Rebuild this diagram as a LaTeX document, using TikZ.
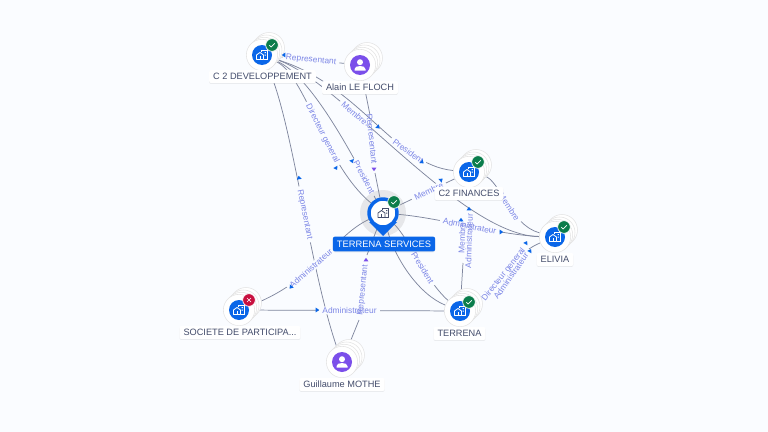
\documentclass[tikz,border=0pt]{standalone}
\usepackage{fontspec}
\setmainfont{Liberation Sans}
\usetikzlibrary{backgrounds, shadows, shapes.geometric}
\definecolor{pagebg}{HTML}{FAFCFF}
\definecolor{inkname}{HTML}{434C6B}
\definecolor{inkrole}{HTML}{7C86E6}
\definecolor{linkgray}{HTML}{7F869E}
\definecolor{mainblue}{HTML}{0A66E8}
\definecolor{mainviolet}{HTML}{7B4FEA}
\definecolor{okgreen}{HTML}{0B7D4B}
\definecolor{kored}{HTML}{C8103F}
\tikzset{
  link/.style={linkgray,line width=.55pt},
  role/.style={text=inkrole,font=\fontsize{6.3}{7}\selectfont,fill=pagebg,inner sep=.6pt,inner xsep=2.5pt,sloped},
  roleo/.style={text=inkrole,font=\fontsize{6.3}{7}\selectfont,inner sep=0pt},
  tipb/.style={isosceles triangle,isosceles triangle apex angle=70,fill=mainblue,inner sep=0pt,minimum size=2.6pt},
  tipv/.style={tipb,fill=mainviolet},
  nametag/.style={text=inkname,fill=white,rounded corners=1.5pt,inner sep=0pt,inner xsep=3pt,
    font=\fontsize{6.9}{8}\selectfont,text height=5pt,text depth=.4pt,minimum height=9.8pt,
    drop shadow={opacity=.14,shadow xshift=0pt,shadow yshift=-.7pt}},
  back/.style={fill=white,draw=black!11,line width=.4pt},
  holder/.style={circle,fill=white,draw=black!11,line width=.4pt,inner sep=0pt,minimum size=23.5pt},
  disc/.style={circle,inner sep=0pt,minimum size=15pt},
  badge/.style={circle,draw=white,line width=.5pt,inner sep=0pt,minimum size=9.5pt},
  bldg/.pic={
    \draw[#1,line width=.6pt,line join=round] (-5.5,4.5)--(-5.5,0)--(-2,-2.5)--(1.5,0)--(1.5,4.5)--cycle;
    \draw[#1,line width=.6pt] (-2,1) -- (-2,4.5);
    \draw[#1,line width=.6pt] (-1,-3) -- (-1,-5) -- (5,-5) -- (5,4.5) -- (1.5,4.5);
    \fill[#1] (2.5,-3) rectangle (3.8,-1.8) (2.5,-.5) rectangle (3.8,.7);
  },
  person/.pic={
    \fill[white] (0,-2.8) circle (3);
    \fill[white] (-5.5,5.5) -- (5.5,5.5) -- (5.5,4.2) .. controls (5.5,2) and (3,1) .. (0,1) .. controls (-3,1) and (-5.5,2) .. (-5.5,4.2) -- cycle;
  },
  okmark/.pic={\draw[white,line width=.5pt] (-2.6,.2) -- (-.8,2) -- (2.8,-1.8);},
  komark/.pic={\draw[white,line width=.5pt] (-2,-2) -- (2,2) (-2,2) -- (2,-2);}
}
\begin{document}
\begin{tikzpicture}[x=.75pt,y=-.75pt]
\useasboundingbox (0,0) rectangle (768,432);
\begin{scope}[on background layer]
\fill[pagebg] (0,0) rectangle (768,432);
\end{scope}

% stacked cards behind each entity
\foreach \x/\y in {262/55,360/65,469/172,555/237,460/311,239/310,342/362}{
  \foreach \d in {7,4.5,2.2}
    \draw[back] (\x+\d,\y-\d) circle (15.5);
}

% entities
\node[holder] (cdev) at (262,55) {};
\node[holder] (floch) at (360,65) {};
\node[holder] (cfin) at (469,172) {};
\node[holder] (elivia) at (555,237) {};
\node[holder] (terrena) at (460,311) {};
\node[holder] (socpart) at (239,310) {};
\node[holder] (mothe) at (342,362) {};

\foreach \n/\c in {cdev/mainblue,cfin/mainblue,elivia/mainblue,terrena/mainblue,socpart/mainblue,floch/mainviolet,mothe/mainviolet}
  \node[disc,fill=\c] (\n disc) at (\n) {};
\foreach \n in {cdev,cfin,elivia,terrena,socpart}
  \pic at (\n) {bldg=white};
\foreach \n in {floch,mothe}
  \pic at (\n) {person};

% the main one
\fill[black!45,opacity=.18] (383,213) circle (23);
\fill[mainblue] (369,222) -- (383,236) -- (397,222) -- cycle;
\node[circle,fill=white,draw=mainblue,line width=2.6pt,inner sep=0pt,minimum size=21pt] (tserv) at (383,213) {};
\pic at (383.5,213) {bldg=inkname};

% badges
\node[badge,fill=okgreen] (okcdev) at (272,45) {};
\node[badge,fill=okgreen] (okcfin) at (478,162) {};
\node[badge,fill=okgreen] (okeliv) at (564,227) {};
\node[badge,fill=okgreen] (okterr) at (469,302) {};
\node[badge,fill=okgreen] (oktser) at (394,202) {};
\node[badge,fill=kored] (kosoc) at (249,300) {};
\foreach \n in {okcdev,okcfin,okeliv,okterr,oktser}
  \pic at (\n) {okmark};
\pic at (kosoc) {komark};

% names
\node[nametag] (ncdev) at (262.5,76.5) {C 2 DEVELOPPEMENT};
\node[nametag] (nfloch) at (360,87.5) {Alain LE FLOCH};
\node[nametag] (ncfin) at (469,193.5) {C2 FINANCES};
\node[nametag] (neliv) at (555,259.5) {ELIVIA};
\node[nametag] (nterr) at (459.5,333.5) {TERRENA};
\node[nametag] (nsoc) at (240,332.5) {SOCIETE DE PARTICIPA...};
\node[nametag] (nmothe) at (342,384.5) {Guillaume MOTHE};
\node[nametag,fill=mainblue,text=white,font=\fontsize{7}{8}\selectfont,minimum height=11pt] (ntser) at (384,244) {TERRENA SERVICES};

% links, with their roles
\begin{scope}[on background layer]
\draw[link] (cdev) -- (floch) node[role,pos=.5] (r1) {Representant};
\draw[link] (cdev) .. controls (305,75) and (325,165) .. (tserv) node[role,pos=.56] (r2) {Directeur general};
\draw[link] (cdev) .. controls (310,75) and (350,150) .. (tserv) node[role,pos=.86] (r3) {President};
\draw[link] (cdev) .. controls (340,80) and (460,235) .. (elivia) node[role,pos=.33] (r4) {Membre};
\draw[link] (cdev) .. controls (360,85) and (395,165) .. (cfin) node[role,pos=.72] (r5) {President};
\draw[link] (cdev) .. controls (292,120) and (310,270) .. (mothe) node[role,pos=.55] (r6) {Representant};
\draw[link] (tserv) .. controls (335,235) and (315,280) .. (socpart) node[role,pos=.6] (r7) {Administrateur};
\draw[link] (tserv) .. controls (440,218) and (500,235) .. (elivia) node[role,pos=.5] (r8) {Administrateur};
\draw[link] (tserv) -- (cfin) node[role,pos=.55] (r9) {Membre};
\draw[link] (cfin) .. controls (500,180) and (510,225) .. (elivia) node[role,pos=.55] (r10) {Membre};
\draw[link] (tserv) .. controls (395,260) and (420,295) .. (terrena);
\draw[link] (tserv) .. controls (410,240) and (425,280) .. (terrena) node[role,pos=.58] (r11) {President};
\draw[link] (socpart) -- (terrena) node[role,pos=.5] (r12) {Administrateur};
\draw[link] (terrena) .. controls (495,295) and (510,255) .. (elivia) node[role,pos=.5] (r13) {Directeur general};
\coordinate (fromter) at (463,263);
\coordinate (tocfin) at (466,200);
\draw[link] (terrena) -- (fromter);
\draw[link] (tocfin) -- (cfin);
\coordinate (fromfl) at (375,173);
\draw[link] (fromfl) -- (tserv);
\coordinate (fromfl2) at (370,115);
\draw[link] (floch) -- (fromfl2);
\coordinate (fromgm) at (359,320);
\draw[link] (mothe) -- (fromgm);
\coordinate (togm) at (367,255);
\draw[link] (togm) -- (tserv);
\end{scope}

% roles lying over another one
\node[roleo,rotate=-84] (r14) at (371,139) {Representant};
\node[roleo,rotate=84] (r15) at (363,290) {Representant};
\node[roleo,rotate=88] (r16) at (462,238) {Membre};
\node[roleo,rotate=88] (r17) at (469,241) {Administrateur};
\node[roleo,rotate=55] (r18) at (511,276) {Administrateur};

% small tips
\foreach \x/\y/\a in {284/55/180,336/168/-60,352/161/-70,378/127/-45,422/162/-40,299/178/100,291/287/230,
  501/232/0,441/180/40,317/310/0,469/209/90,461/220/90,526/243/60,530/251/60}
  \node[tipb,rotate=\a] (tb\x) at (\x,\y) {};
\foreach \x/\y/\a in {374/169/-90,366/260/90}
  \node[tipv,rotate=\a] (tv\x) at (\x,\y) {};
\end{tikzpicture}
\end{document}
